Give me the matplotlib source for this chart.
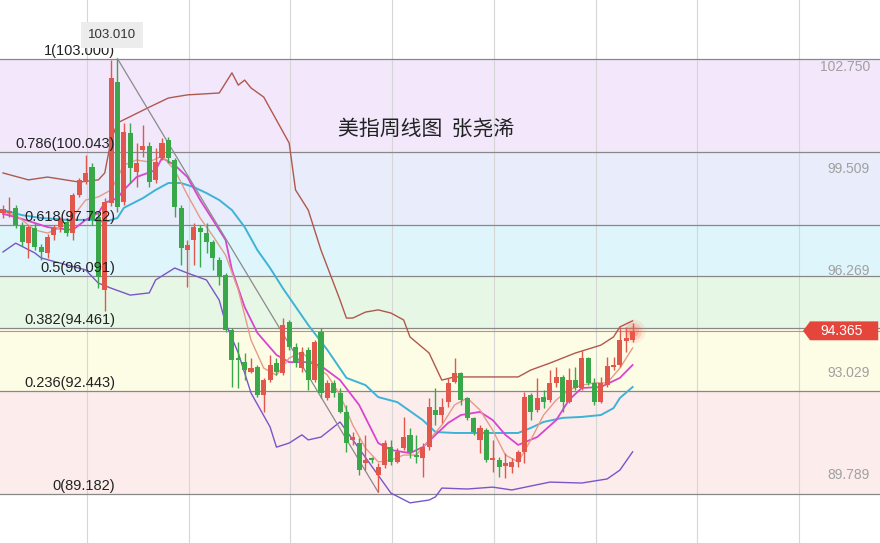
import numpy as np
import matplotlib.pyplot as plt
import matplotlib.transforms as mtransforms
from matplotlib.patches import Polygon

plt.rcParams['font.family'] = ['Liberation Sans', 'DejaVu Sans']

# weekly candles (oldest first)
opens = [98.11, 98.11, 98.27, 97.73, 97.15, 97.63, 97.03, 96.84, 97.41, 97.66,
         97.82, 97.47, 98.68, 99.09, 99.57, 97.98, 95.66, 98.43, 102.27, 98.46,
         100.65, 99.41, 100.11, 100.24, 99.16, 99.86, 100.43, 99.79, 98.27, 96.93,
         97.25, 97.63, 97.47, 97.19, 96.62, 96.14, 94.39, 93.50, 93.37, 93.06,
         93.22, 92.33, 92.80, 93.34, 93.02, 94.65, 93.85, 93.18, 93.76, 92.80,
         94.33, 92.23, 92.71, 92.39, 91.79, 90.90, 90.80, 90.17, 90.32, 89.79,
         90.10, 90.67, 90.20, 90.64, 91.06, 90.42, 90.32, 90.67, 91.85, 91.69,
         92.10, 92.74, 93.02, 92.23, 91.60, 90.90, 91.21, 90.26, 90.26, 90.07,
         90.04, 90.20, 90.52, 92.33, 91.85, 92.26, 92.17, 92.71, 92.90, 92.10,
         92.80, 92.55, 93.50, 92.71, 92.10, 92.64, 93.22, 93.28, 94.04, 94.07]
highs = [98.36, 98.62, 98.36, 97.82, 97.73, 97.79, 97.12, 97.44, 97.73, 97.98,
         97.95, 98.74, 99.22, 99.95, 99.70, 98.14, 98.58, 102.97, 103.01, 100.97,
         100.97, 100.33, 100.90, 100.36, 100.17, 100.49, 100.52, 99.86, 98.36, 97.25,
         97.79, 97.73, 97.79, 97.25, 96.71, 96.20, 94.46, 94.01, 93.66, 93.50,
         93.28, 92.87, 93.60, 93.50, 94.77, 94.71, 93.98, 93.85, 93.85, 94.07,
         94.46, 92.80, 92.80, 92.55, 92.01, 91.15, 90.96, 91.06, 90.36, 90.17,
         90.90, 90.90, 90.64, 91.63, 91.28, 91.06, 90.80, 92.23, 92.55, 92.23,
         92.87, 93.50, 93.06, 92.26, 91.63, 91.37, 91.28, 90.90, 90.36, 90.48,
         90.32, 90.58, 92.42, 92.39, 92.87, 92.49, 93.12, 93.22, 92.96, 93.18,
         93.22, 93.76, 93.53, 92.87, 92.90, 93.53, 93.53, 94.49, 94.49, 94.61]
lows = [97.95, 97.98, 97.63, 97.06, 96.68, 96.93, 96.62, 96.68, 97.25, 97.50,
        97.38, 97.25, 98.62, 99.03, 97.73, 95.73, 94.99, 98.33, 98.14, 98.36,
        99.06, 98.93, 99.89, 98.93, 99.06, 99.79, 99.70, 97.98, 96.46, 95.76,
        96.46, 96.39, 96.84, 96.30, 95.82, 94.33, 92.58, 92.55, 92.80, 93.02,
        92.26, 91.79, 92.74, 92.96, 92.96, 93.76, 93.22, 93.06, 92.49, 92.74,
        92.23, 92.17, 92.26, 91.76, 90.52, 90.74, 89.79, 89.94, 90.17, 89.24,
        90.01, 90.10, 90.17, 90.58, 90.32, 90.17, 89.72, 90.58, 91.37, 91.44,
        91.95, 92.71, 92.01, 91.53, 91.06, 90.48, 90.20, 89.88, 89.72, 89.69,
        89.85, 90.04, 90.17, 91.53, 91.79, 91.91, 92.10, 92.58, 91.79, 92.07,
        92.49, 92.49, 92.64, 92.01, 92.07, 92.58, 93.12, 93.22, 93.69, 94.01]
closes = [98.24, 98.17, 97.73, 97.19, 97.66, 97.03, 96.87, 97.35, 97.63, 97.89,
          97.47, 98.68, 99.16, 99.38, 97.89, 96.08, 98.46, 102.40, 98.30, 100.68,
          99.54, 99.70, 100.24, 99.09, 99.73, 100.33, 99.86, 98.30, 96.99, 97.09,
          97.66, 97.50, 97.19, 96.68, 96.08, 94.39, 93.44, 93.44, 93.12, 93.18,
          92.33, 92.80, 93.28, 93.06, 94.55, 93.85, 93.34, 93.69, 92.80, 94.01,
          92.39, 92.71, 92.39, 91.79, 90.80, 90.99, 89.94, 90.26, 90.26, 90.04,
          90.80, 90.20, 90.52, 90.99, 90.52, 90.36, 90.67, 91.95, 91.69, 91.95,
          92.71, 93.02, 92.17, 91.60, 91.15, 91.28, 90.26, 90.32, 90.04, 90.17,
          90.20, 90.52, 92.26, 91.79, 92.23, 92.10, 92.71, 92.90, 92.10, 92.80,
          92.55, 93.50, 92.71, 92.10, 92.71, 93.25, 93.28, 94.07, 94.14, 94.365]

# indicator lines, sampled at candle indices
bb_up_idx = [0, 4, 7, 12, 15, 16, 17, 18, 23, 26, 29, 34, 35, 36, 37, 38, 39, 41, 43, 45,
             46, 48, 50, 53, 54, 55, 57, 59, 61, 63, 64, 67, 69, 71, 75, 78, 81, 83, 86, 90,
             94, 96, 97, 99]
bb_up = [99.38, 99.16, 99.25, 99.09, 99.16, 99.38, 100.43, 100.97, 101.47, 101.76,
         101.86, 101.92, 102.24, 102.56, 102.17, 102.33, 102.08, 101.79, 101.06, 100.33,
         98.84, 98.20, 96.93, 95.34, 94.77, 94.77, 94.96, 95.03, 94.93, 94.71,
         94.17, 93.66, 92.80, 92.90, 92.90, 92.90, 92.90, 93.12, 93.34, 93.66,
         93.91, 94.17, 94.49, 94.68]
bb_dn_idx = [0, 2, 5, 6, 10, 13, 15, 17, 20, 23, 24, 27, 29, 32, 34, 35, 37, 39, 42, 43,
             45, 47, 48, 50, 53, 61, 64, 67, 68, 69, 73, 77, 80, 86, 91, 95, 97, 99]
bb_dn = [96.87, 97.15, 96.84, 96.68, 96.46, 96.30, 95.88, 95.72, 95.50, 95.57,
         95.98, 96.36, 96.20, 95.98, 95.34, 94.61, 93.66, 92.39, 91.31, 90.67,
         90.80, 91.06, 90.90, 90.99, 91.47, 89.21, 88.90, 88.99, 89.09, 89.37,
         89.34, 89.40, 89.31, 89.56, 89.53, 89.66, 89.94, 90.52]
mid_idx = [0, 3, 6, 10, 14, 16, 18, 19, 22, 24, 26, 28, 30, 32, 34, 36, 38, 40, 42, 44,
           48, 51, 54, 57, 59, 62, 66, 68, 71, 75, 78, 81, 83, 85, 88, 91, 94, 96, 97, 99]
mid = [98.20, 98.04, 97.95, 97.89, 97.89, 97.82, 97.95, 98.27, 98.58, 98.84,
       99.06, 99.06, 98.93, 98.74, 98.52, 98.20, 97.66, 96.93, 96.36, 95.72,
       94.55, 93.76, 92.87, 92.64, 92.26, 92.10, 91.53, 91.15, 91.12, 91.12,
       91.12, 91.12, 91.28, 91.47, 91.60, 91.63, 91.69, 91.91, 92.23, 92.58]
ma10_idx = [0, 2, 5, 7, 8, 11, 13, 15, 16, 18, 19, 21, 24, 25, 27, 29, 31, 33, 35, 36,
            38, 40, 43, 45, 48, 50, 53, 56, 59, 61, 64, 66, 68, 70, 72, 75, 77, 79, 81, 84,
            87, 89, 91, 94, 97, 99]
ma10 = [98.08, 97.98, 97.79, 97.66, 97.63, 97.57, 97.89, 98.11, 98.43, 98.58,
        98.84, 99.25, 99.47, 99.86, 99.63, 99.25, 98.52, 97.89, 97.25, 96.30,
        95.12, 94.30, 93.60, 93.37, 93.37, 93.25, 92.80, 92.01, 90.80, 90.58,
        90.48, 90.67, 91.06, 91.44, 91.69, 91.79, 91.53, 91.06, 90.74, 90.99,
        91.53, 92.17, 92.55, 92.58, 92.87, 93.28]
ma5_idx = [0, 2, 5, 7, 10, 13, 15, 17, 19, 21, 23, 25, 27, 29, 31, 33, 35, 37, 39, 41,
           43, 45, 47, 49, 51, 53, 55, 57, 59, 61, 63, 65, 67, 69, 71, 73, 75, 77, 79, 81,
           83, 85, 87, 89, 91, 93, 95, 97, 99]
ma5 = [98.14, 98.04, 97.57, 97.47, 97.73, 98.52, 98.62, 98.84, 99.63, 99.79,
       99.73, 99.92, 99.47, 98.68, 97.95, 97.38, 96.77, 95.66, 94.07, 93.18,
       92.96, 93.50, 93.69, 93.28, 92.96, 92.33, 91.37, 90.64, 90.20, 90.26,
       90.42, 90.42, 90.90, 91.37, 92.01, 92.23, 91.85, 91.21, 90.42, 90.20,
       90.90, 91.69, 92.17, 92.49, 92.64, 92.71, 92.71, 93.18, 93.82]
trend_idx = [18, 59]
trend_val = [103.01, 89.24]

fib_ratio = ['1', '0.786', '0.618', '0.5', '0.382', '0.236', '0']
fib_price = [103.000, 100.043, 97.722, 96.091, 94.461, 92.443, 89.182]
band_colors = ['#f2e7fb', '#e8ecfb', '#def5fb', '#e7f7e6', '#fdfce5', '#fdecec']
axis_ticks = [102.750, 99.509, 96.269, 93.029, 89.789]
title = '美指周线图  张尧浠'

fig = plt.figure(figsize=(8.8, 5.43), dpi=100)
ax = fig.add_axes([0, 0, 1, 1])
ax.set_xlim(-0.47, 137.9)
ax.set_ylim(87.625, 104.874)
ax.axis('off')
trans = mtransforms.blended_transform_factory(ax.transAxes, ax.transData)

# fibonacci bands and levels
for k in range(len(fib_price) - 1):
    ax.axhspan(fib_price[k + 1], fib_price[k], color=band_colors[k], lw=0, zorder=0)
for x in np.arange(13.2, 138, 16):
    ax.axvline(x, color='#d6d6d6', lw=0.8, zorder=0.5)
for r, p in zip(fib_ratio, fib_price):
    ax.axhline(p, color='#888888', lw=0.9, zorder=1)
    ax.annotate(f'{r}({p:.3f})', xy=(0.1307, p), xycoords=trans,
                xytext=(0, 3), textcoords='offset points',
                ha='right', va='baseline', fontsize=10.5, color='#222222', zorder=9)

for t in axis_ticks:
    ax.text(0.9886, t, f'{t:.3f}', transform=trans, ha='right', va='center',
            fontsize=10, color='#a0a0a0', zorder=9)

# indicators
ax.plot(bb_up_idx, bb_up, color='#b0584e', lw=1.0, zorder=3)
ax.plot(bb_dn_idx, bb_dn, color='#7a55c9', lw=1.0, zorder=3)
ax.plot(mid_idx, mid, color='#3db3d6', lw=1.4, zorder=3)
ax.plot(ma10_idx, ma10, color='#d845cf', lw=1.3, zorder=3)
ax.plot(ma5_idx, ma5, color='#e79a88', lw=1.0, zorder=3)
ax.plot(trend_idx, trend_val, color='#8a8a8a', lw=0.9, zorder=3)

# candles
o = np.array(opens)
c = np.array(closes)
h = np.array(highs)
l = np.array(lows)
idx = np.arange(len(c))
col = np.where(c >= o, '#e2574c', '#3aa84a')
ax.vlines(idx, l, h, colors=col, lw=1, zorder=4)
ax.bar(idx, np.maximum(np.abs(c - o), 0.05), bottom=np.minimum(o, c),
       width=0.8, color=col, lw=0, zorder=5)

# peak label
imax = int(np.argmax(h))
ax.annotate(f'{h[imax]:.3f}', xy=(imax, h[imax]), xytext=(-4, 17),
            textcoords='offset points', ha='center', va='center', fontsize=9.5,
            color='#333333', zorder=9,
            bbox=dict(boxstyle='square,pad=0.5', fc='#ececec', ec='none'))

# current price line and tag
last = closes[-1]
ax.axhline(last, color='#cf8a7c', lw=0.8, zorder=1.5)
for s, a in [(300, 0.10), (150, 0.18), (60, 0.25)]:
    ax.scatter([idx[-1]], [last], s=s, color='#ff5a4a', alpha=a, lw=0, zorder=6)
hh = 0.30
tag = Polygon([[0.9125, last], [0.9205, last + hh], [0.998, last + hh],
               [0.998, last - hh], [0.9205, last - hh]], closed=True,
              transform=trans, fc='#e4463c', ec='none', zorder=8)
ax.add_patch(tag)
ax.text(0.956, last, f'{last:.3f}', transform=trans, color='white', fontsize=10,
        ha='center', va='center', zorder=9)

ax.text(0.484, 0.764, title, transform=ax.transAxes, ha='center', va='center',
        fontsize=15, color='#222222', family=['Noto Sans CJK SC', 'DejaVu Sans'], zorder=9)

fig.savefig('out.png', dpi=100)
